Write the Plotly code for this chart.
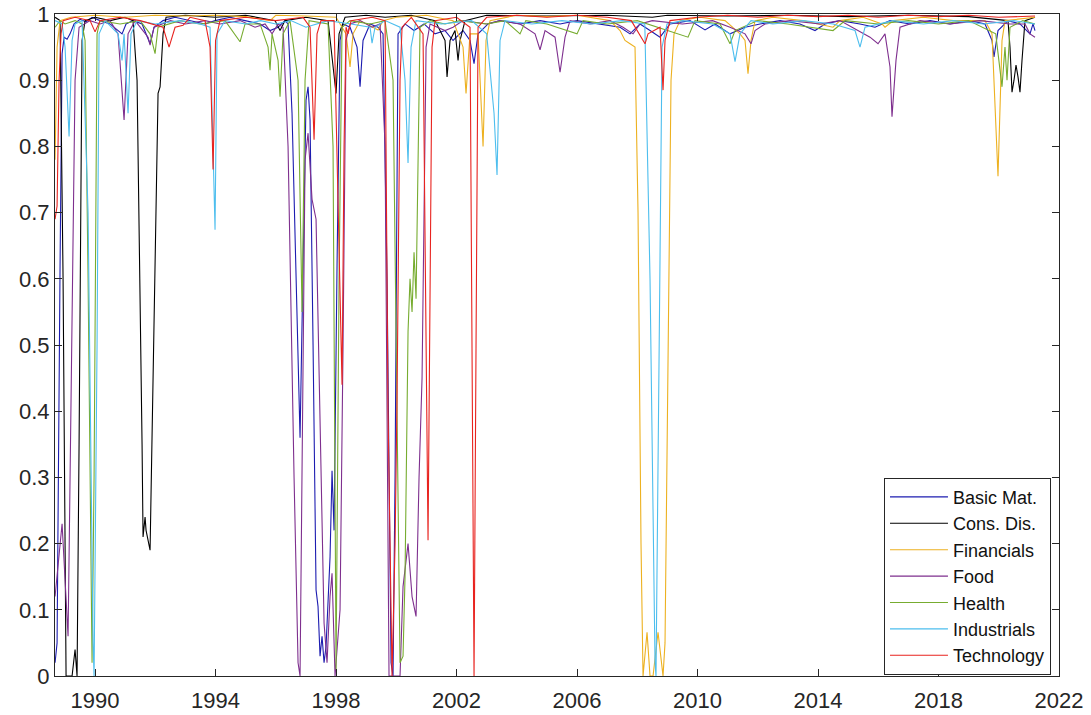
import plotly.graph_objects as go

# ---------------- data (decimal year, probability) ----------------
basic_years = [1988.672, 1988.739, 1988.838, 1988.905, 1988.971, 1989.071, 1989.170, 1989.303, 1989.502, 1989.701,
               1989.900, 1990.166, 1990.498, 1990.763, 1990.896, 1991.029, 1991.261, 1991.560, 1991.826, 1991.959,
               1992.257, 1992.656, 1993.154, 1993.651, 1993.983, 1994.481, 1994.979, 1995.477, 1995.809, 1996.075,
               1996.307, 1996.407, 1996.539, 1996.672, 1996.805, 1996.905, 1997.004, 1997.071, 1997.137, 1997.237,
               1997.336, 1997.402, 1997.469, 1997.535, 1997.602, 1997.668, 1997.801, 1997.867, 1997.934, 1998.033,
               1998.133, 1998.232, 1998.465, 1998.697, 1998.797, 1998.896, 1999.129, 1999.394, 1999.560, 1999.693,
               1999.826, 1999.892, 1999.959, 2000.058, 2000.290, 2000.589, 2000.921, 2001.286, 2001.618, 2001.884,
               2002.216, 2002.448, 2002.581, 2002.714, 2003.046, 2003.444, 2004.108, 2004.772, 2005.436, 2006.000,
               2006.763, 2007.427, 2007.759, 2008.091, 2008.423, 2008.755, 2009.087, 2009.751, 2010.249, 2010.581,
               2011.079, 2011.577, 2012.075, 2012.739, 2013.402, 2013.900, 2014.232, 2014.730, 2015.394, 2015.892,
               2016.390, 2017.054, 2017.718, 2018.382, 2019.046, 2019.544, 2019.776, 2019.842, 2019.975, 2020.307,
               2020.705, 2021.037, 2021.137, 2021.203]
basic_vals = [0.02, 0.05, 0.62, 0.94, 0.965, 0.962, 0.97, 0.985, 0.992, 0.988,
              0.995, 0.99, 0.985, 0.975, 0.97, 0.985, 0.99, 0.985, 0.955, 0.98,
              0.99, 0.995, 0.99, 0.985, 0.99, 0.995, 0.99, 0.985, 0.975, 0.98,
              0.99, 0.985, 0.85, 0.6, 0.36, 0.62, 0.87, 0.89, 0.84, 0.5,
              0.13, 0.105, 0.03, 0.06, 0.02, 0.045, 0.18, 0.31, 0.22, 0.62,
              0.96, 0.985, 0.98, 0.95, 0.89, 0.96, 0.985, 0.98, 0.97, 0.6,
              0.02, 0.0, 0.3, 0.97, 0.985, 0.975, 0.985, 0.97, 0.975, 0.96,
              0.975, 0.96, 0.925, 0.97, 0.985, 0.99, 0.985, 0.99, 0.985, 0.99,
              0.985, 0.98, 0.97, 0.985, 0.975, 0.965, 0.985, 0.99, 0.976, 0.985,
              0.97, 0.98, 0.985, 0.99, 0.985, 0.975, 0.985, 0.99, 0.985, 0.98,
              0.99, 0.985, 0.99, 0.985, 0.99, 0.985, 0.96, 0.935, 0.975, 0.99,
              0.985, 0.97, 0.985, 0.975]

cons_years = [1988.672, 1988.838, 1988.938, 1989.037, 1989.170, 1989.237, 1989.336, 1989.402, 1989.469, 1989.568,
              1989.668, 1990.000, 1990.498, 1990.996, 1991.261, 1991.394, 1991.560, 1991.593, 1991.660, 1991.693,
              1991.826, 1991.959, 1992.091, 1992.158, 1992.257, 1992.357, 1993.000, 1994.000, 1995.000, 1995.975,
              1996.141, 1996.307, 1997.000, 1997.734, 1997.934, 1998.000, 1998.100, 1998.299, 1999.000, 1999.627,
              2000.500, 2001.286, 2001.618, 2001.685, 2001.784, 2001.950, 2002.050, 2002.116, 2002.282, 2003.000,
              2005.000, 2007.000, 2008.500, 2009.000, 2011.000, 2013.000, 2015.000, 2017.000, 2019.000, 2020.307,
              2020.373, 2020.440, 2020.506, 2020.573, 2020.639, 2020.705, 2020.772, 2020.871, 2021.203]
cons_vals = [0.995, 0.99, 0.6, 0.0, 0.0, 0.0, 0.04, 0.0, 0.35, 0.96,
             0.99, 0.995, 0.99, 0.995, 0.99, 0.9, 0.35, 0.21, 0.24, 0.22,
             0.19, 0.55, 0.88, 0.89, 0.97, 0.995, 0.998, 0.995, 0.998, 0.99,
             0.975, 0.99, 0.995, 0.99, 0.91, 0.88, 0.97, 0.995, 0.998, 0.995,
             0.998, 0.99, 0.96, 0.905, 0.96, 0.975, 0.93, 0.96, 0.99, 0.998,
             0.997, 0.998, 0.995, 0.998, 0.997, 0.998, 0.996, 0.998, 0.996, 0.99,
             0.95, 0.882, 0.9, 0.923, 0.905, 0.882, 0.93, 0.99, 0.995]

fin_years = [1988.672, 1988.739, 1988.838, 1989.200, 1990.000, 1991.000, 1992.000, 1993.000, 1994.000, 1995.000,
             1995.809, 1996.000, 1997.000, 1998.000, 1998.332, 1998.465, 1998.564, 1998.797, 1999.394, 1999.560,
             2000.000, 2001.000, 2001.884, 2002.216, 2002.315, 2002.448, 2002.714, 2002.880, 2002.979, 2003.112,
             2004.000, 2005.000, 2006.000, 2007.095, 2007.427, 2007.593, 2007.759, 2007.925, 2008.025, 2008.124,
             2008.191, 2008.324, 2008.423, 2008.523, 2008.689, 2008.855, 2008.921, 2009.021, 2009.120, 2009.220,
             2009.419, 2010.083, 2010.913, 2011.411, 2011.577, 2011.676, 2011.776, 2011.909, 2012.500, 2013.500,
             2014.498, 2014.730, 2015.500, 2016.124, 2016.224, 2016.500, 2017.500, 2018.500, 2019.544, 2019.776,
             2019.975, 2020.108, 2020.207, 2021.203]
fin_vals = [0.78, 0.95, 0.99, 0.995, 0.998, 0.995, 0.998, 0.997, 0.998, 0.996,
            0.99, 0.998, 0.997, 0.995, 0.97, 0.92, 0.97, 0.99, 0.976, 0.99,
            0.995, 0.998, 0.99, 0.95, 0.88, 0.97, 0.97, 0.80, 0.96, 0.99,
            0.998, 0.996, 0.998, 0.99, 0.975, 0.96, 0.955, 0.95, 0.7, 0.2,
            0.0, 0.066, 0.0, 0.0, 0.066, 0.0, 0.05, 0.5, 0.9, 0.97,
            0.99, 0.995, 0.99, 0.97, 0.96, 0.91, 0.96, 0.99, 0.995, 0.99,
            0.98, 0.99, 0.995, 0.985, 0.98, 0.99, 0.995, 0.99, 0.99, 0.97,
            0.755, 0.96, 0.99, 0.995]

food_years = [1988.672, 1988.905, 1989.104, 1989.237, 1989.336, 1989.469, 1989.834, 1990.166, 1990.498, 1990.763,
              1990.963, 1991.095, 1991.328, 1991.759, 1991.826, 1991.959, 1992.500, 1993.000, 1993.651, 1994.149,
              1994.813, 1995.311, 1995.643, 1995.876, 1996.075, 1996.241, 1996.407, 1996.606, 1996.739, 1996.805,
              1996.871, 1996.971, 1997.071, 1997.203, 1997.336, 1997.402, 1997.469, 1997.602, 1997.701, 1997.801,
              1997.867, 1997.967, 1998.066, 1998.133, 1998.232, 1998.332, 1998.465, 1998.797, 1999.195, 1999.461,
              1999.627, 1999.759, 1999.959, 2000.124, 2000.224, 2000.390, 2000.523, 2000.656, 2000.755, 2000.855,
              2000.988, 2001.120, 2001.618, 2001.884, 2002.216, 2003.000, 2003.444, 2004.108, 2004.606, 2004.772,
              2004.938, 2005.270, 2005.436, 2005.602, 2005.768, 2006.432, 2007.095, 2007.527, 2007.859, 2008.091,
              2008.500, 2009.500, 2010.500, 2011.079, 2011.577, 2011.776, 2011.909, 2012.241, 2013.071, 2014.066,
              2014.730, 2015.726, 2015.992, 2016.224, 2016.390, 2016.456, 2016.589, 2016.722, 2017.386, 2018.382,
              2019.378, 2020.373, 2020.871, 2021.037, 2021.203]
food_vals = [0.12, 0.23, 0.06, 0.5, 0.9, 0.98, 0.99, 0.985, 0.99, 0.97,
             0.84, 0.97, 0.99, 0.965, 0.953, 0.98, 0.99, 0.985, 0.99, 0.985,
             0.99, 0.98, 0.985, 0.97, 0.985, 0.98, 0.8, 0.3, 0.02, 0.0,
             0.3, 0.78, 0.82, 0.72, 0.69, 0.55, 0.38, 0.08, 0.02, 0.12,
             0.155, 0.0, 0.06, 0.10, 0.5, 0.96, 0.985, 0.99, 0.98, 0.985,
             0.8, 0.0, 0.0, 0.0, 0.135, 0.2, 0.12, 0.09, 0.3, 0.45,
             0.95, 0.985, 0.975, 0.98, 0.99, 0.985, 0.99, 0.985, 0.97, 0.946,
             0.975, 0.965, 0.912, 0.965, 0.99, 0.985, 0.99, 0.98, 0.97, 0.985,
             0.99, 0.985, 0.99, 0.98, 0.97, 0.955, 0.975, 0.985, 0.99, 0.985,
             0.99, 0.965, 0.955, 0.97, 0.92, 0.845, 0.93, 0.98, 0.99, 0.985,
             0.99, 0.985, 0.985, 0.97, 0.965]

health_years = [1988.672, 1988.838, 1989.004, 1989.336, 1989.568, 1989.668, 1989.768, 1989.900, 1989.967, 1990.066,
                1990.166, 1990.830, 1991.494, 1991.826, 1991.992, 1992.091, 1992.822, 1993.486, 1994.315, 1994.813,
                1994.979, 1995.477, 1995.743, 1995.809, 1995.876, 1996.075, 1996.141, 1996.241, 1996.473, 1996.739,
                1996.871, 1996.971, 1997.104, 1997.734, 1997.900, 1998.000, 1998.100, 1998.199, 1998.465, 1999.129,
                1999.627, 1999.892, 2000.124, 2000.224, 2000.290, 2000.390, 2000.456, 2000.523, 2000.589, 2000.656,
                2000.788, 2001.120, 2001.618, 2002.116, 2003.000, 2003.610, 2004.108, 2004.300, 2005.000, 2006.000,
                2006.200, 2007.000, 2008.000, 2009.485, 2009.685, 2009.917, 2010.747, 2011.079, 2011.245, 2012.000,
                2013.000, 2014.498, 2014.900, 2016.000, 2017.000, 2018.000, 2019.000, 2019.900, 2020.108, 2020.207,
                2020.274, 2020.373, 2020.800, 2021.203]
health_vals = [0.98, 0.99, 0.985, 0.99, 0.985, 0.96, 0.6, 0.02, 0.3, 0.97,
               0.99, 0.985, 0.99, 0.97, 0.94, 0.98, 0.99, 0.985, 0.99, 0.958,
               0.985, 0.985, 0.95, 0.915, 0.97, 0.93, 0.875, 0.97, 0.99, 0.9,
               0.55, 0.9, 0.99, 0.985, 0.8, 0.01, 0.6, 0.98, 0.99, 0.985,
               0.99, 0.9, 0.02, 0.03, 0.15, 0.52, 0.6, 0.55, 0.64, 0.57,
               0.98, 0.99, 0.985, 0.99, 0.985, 0.99, 0.97, 0.99, 0.985, 0.97,
               0.99, 0.985, 0.99, 0.968, 0.965, 0.99, 0.985, 0.955, 0.975, 0.99,
               0.985, 0.975, 0.99, 0.985, 0.99, 0.985, 0.99, 0.97, 0.89, 0.95,
               0.9, 0.98, 0.99, 0.985]

ind_years = [1988.672, 1988.905, 1989.004, 1989.137, 1989.237, 1989.336, 1989.568, 1989.768, 1989.934, 1989.967,
             1990.066, 1990.133, 1990.332, 1990.763, 1990.896, 1990.963, 1991.095, 1991.194, 1991.394, 1992.000,
             1992.822, 1993.486, 1993.817, 1993.983, 1994.050, 1994.315, 1995.000, 1995.500, 1996.000, 1996.500,
             1997.000, 1997.734, 1998.500, 1999.129, 1999.195, 1999.295, 1999.627, 2000.124, 2000.290, 2000.390,
             2000.490, 2000.656, 2001.500, 2002.500, 2003.000, 2003.245, 2003.344, 2003.444, 2003.610, 2004.500,
             2005.500, 2006.500, 2007.500, 2008.250, 2008.423, 2008.589, 2008.622, 2008.689, 2008.822, 2008.988,
             2009.500, 2010.500, 2011.079, 2011.245, 2011.411, 2011.776, 2012.500, 2013.500, 2014.500, 2015.228,
             2015.394, 2015.560, 2016.500, 2017.500, 2018.500, 2019.500, 2020.500, 2021.203]
ind_vals = [0.99, 0.985, 0.95, 0.815, 0.96, 0.985, 0.99, 0.7, 0.05, 0.0,
            0.5, 0.97, 0.99, 0.97, 0.93, 0.97, 0.85, 0.97, 0.99, 0.985,
            0.99, 0.985, 0.98, 0.674, 0.97, 0.99, 0.985, 0.99, 0.985, 0.99,
            0.98, 0.99, 0.985, 0.98, 0.956, 0.98, 0.99, 0.98, 0.9, 0.775,
            0.95, 0.99, 0.985, 0.99, 0.97, 0.85, 0.757, 0.96, 0.99, 0.985,
            0.99, 0.985, 0.99, 0.985, 0.6, 0.02, 0.0, 0.3, 0.95, 0.985,
            0.99, 0.985, 0.97, 0.928, 0.97, 0.99, 0.985, 0.99, 0.985, 0.975,
            0.95, 0.98, 0.99, 0.985, 0.99, 0.985, 0.99, 0.985]

tech_years = [1988.672, 1988.739, 1988.805, 1988.871, 1988.938, 1989.336, 1989.834, 1990.000, 1990.166, 1990.830,
              1991.500, 1992.256, 1992.456, 1992.656, 1992.921, 1993.154, 1993.651, 1993.817, 1993.917, 1994.000,
              1994.149, 1995.000, 1996.000, 1996.906, 1997.137, 1997.270, 1997.369, 1997.500, 1997.934, 1998.066,
              1998.199, 1998.266, 1998.332, 1998.398, 1998.500, 1999.200, 1999.627, 1999.726, 1999.859, 1999.959,
              2000.025, 2000.124, 2000.191, 2000.500, 2000.888, 2001.054, 2001.187, 2001.286, 2002.000, 2002.448,
              2002.581, 2002.647, 2002.714, 2003.000, 2004.000, 2005.000, 2006.000, 2007.000, 2007.800, 2008.257,
              2008.357, 2008.755, 2008.855, 2008.921, 2009.087, 2010.000, 2011.000, 2012.000, 2013.000, 2014.000,
              2015.000, 2016.000, 2017.000, 2018.000, 2019.000, 2020.000, 2021.203]
tech_vals = [0.69, 0.71, 0.9, 0.97, 0.99, 0.995, 0.99, 0.973, 0.99, 0.995,
             0.99, 0.98, 0.95, 0.98, 0.983, 0.995, 0.99, 0.95, 0.765, 0.96,
             0.99, 0.995, 0.99, 0.995, 0.98, 0.81, 0.97, 0.99, 0.99, 0.7,
             0.44, 0.8, 0.98, 0.97, 0.99, 0.995, 0.99, 0.4, 0.0, 0.2,
             0.42, 0.9, 0.98, 0.995, 0.97, 0.205, 0.95, 0.99, 0.995, 0.98,
             0.0, 0.5, 0.98, 0.995, 0.998, 0.995, 0.998, 0.995, 0.99, 0.955,
             0.97, 0.98, 0.885, 0.96, 0.99, 0.995, 0.998, 0.995, 0.998, 0.996,
             0.998, 0.995, 0.998, 0.996, 0.998, 0.995, 0.997]

series_names = ["Basic Mat.", "Cons. Dis.", "Financials", "Food", "Health", "Industrials", "Technology"]
series_years = [basic_years, cons_years, fin_years, food_years, health_years, ind_years, tech_years]
series_vals = [basic_vals, cons_vals, fin_vals, food_vals, health_vals, ind_vals, tech_vals]
colors = ["#1c1cb0", "#000000", "#EDB120", "#7E2F8E", "#77AC30", "#4DBEEE", "#E8231F"]

x_ticks = [1990, 1994, 1998, 2002, 2006, 2010, 2014, 2018, 2022]
y_ticks = [0, 0.1, 0.2, 0.3, 0.4, 0.5, 0.6, 0.7, 0.8, 0.9, 1]
y_ticktext = ["0", "0.1", "0.2", "0.3", "0.4", "0.5", "0.6", "0.7", "0.8", "0.9", "1"]

# ---------------- figure ----------------
fig = go.Figure()
for name, xs, ys, c in zip(series_names, series_years, series_vals, colors):
    fig.add_trace(go.Scatter(x=xs, y=ys, mode="lines", name=name,
                             line=dict(color=c, width=1.1)))

font_family = "Liberation Sans, Arial, Helvetica, sans-serif"
axis_common = dict(showgrid=False, zeroline=False, showline=True, linecolor="#262626",
                   linewidth=1, mirror="ticks", ticks="inside", ticklen=7, tickcolor="#262626",
                   automargin=False, ticklabeloverflow="allow",
                   tickfont=dict(family=font_family, size=22, color="#262626"))

fig.update_layout(
    width=1091, height=715,
    margin=dict(l=55, r=32, t=14, b=39, pad=0),
    paper_bgcolor="white", plot_bgcolor="white",
    showlegend=True,
    legend=dict(x=0.992, y=0.002, xanchor="right", yanchor="bottom",
                bgcolor="white", bordercolor="#262626", borderwidth=1,
                font=dict(family=font_family, size=18, color="#111111"),
                tracegroupgap=0, itemwidth=58),
    xaxis=dict(range=[1988.67, 2022], tickvals=x_ticks, ticklabelstandoff=5, **axis_common),
    yaxis=dict(range=[0, 1], tickvals=y_ticks, ticktext=y_ticktext, **axis_common),
)

fig.write_html("out.html", config={"displayModeBar": False},
               post_script="document.body.style.margin='0';")
